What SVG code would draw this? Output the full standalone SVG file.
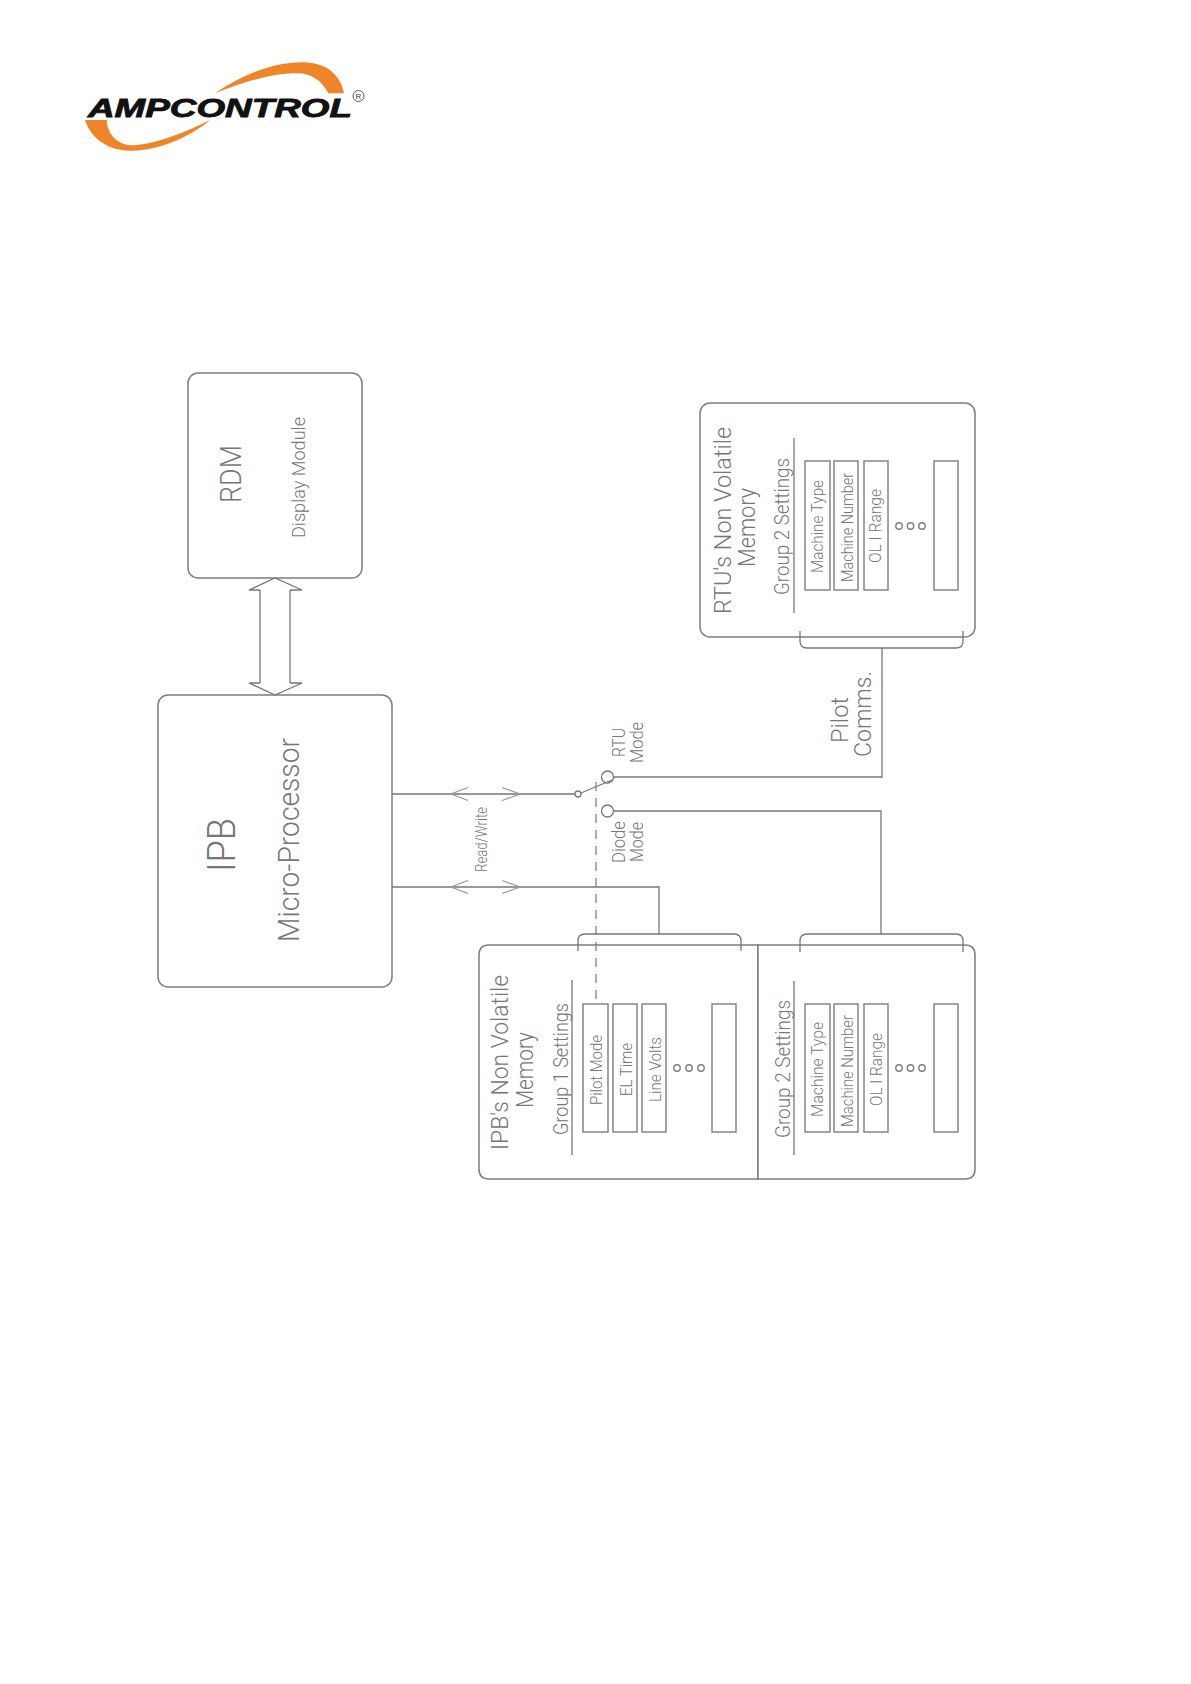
<svg xmlns="http://www.w3.org/2000/svg" width="1191" height="1684" viewBox="0 0 1191 1684">
<style>
text{font-family:"Roboto","Liberation Sans",Arial,sans-serif;font-weight:300;fill:#767676}
.b{fill:#fff;stroke:#7d7d7d;stroke-width:1.5}
.i{fill:none;stroke:#7d7d7d;stroke-width:1.4}
.l{fill:none;stroke:#777;stroke-width:1.3}
.h{fill:none;stroke:#999;stroke-width:1.3}
.d{fill:none;stroke:#777;stroke-width:1.2;stroke-dasharray:9 7}
.s11{font-size:15px}.s13{font-size:16px}.s19{font-size:19px}.s20{font-size:20px}.s22{font-size:23px}.s30{font-size:30px}.s36{font-size:38px}
</style>
<rect width="1191" height="1684" fill="#fff"/>
<g id="logo">
<g transform="translate(70,40) scale(.33333)">
<path fill="#f08428" d="M435,160C520,100 620,65 700,67C770,68 812,105 822,160L775,160C755,122 725,100 680,100C600,100 510,130 435,160Z"/>
<path fill="#f08428" d="M45,240L110,240C112,290 150,318 195,316C270,308 350,275 420,240C360,292 260,334 180,332C110,332 60,290 45,240Z"/>
</g>
<text x="88" y="117" textLength="264" lengthAdjust="spacingAndGlyphs" style="font-family:'Liberation Sans',sans-serif;font-weight:700;font-style:italic;font-size:25px;fill:#111;stroke:#111;stroke-width:.8">AMPCONTROL</text>
<circle cx="358.500" cy="96" r="5.500" fill="none" stroke="#333" stroke-width=".8"/>
<text x="358.500" y="99" text-anchor="middle" style="font-family:'Liberation Sans',sans-serif;font-size:8px;fill:#333">R</text>
</g>
<g id="rdm">
<rect class="b" x="188" y="373" width="174" height="205" rx="10"/>
<text class="s30" transform="translate(241,503) rotate(-90)" textLength="58" lengthAdjust="spacingAndGlyphs">RDM</text>
<text class="s19" transform="translate(305,538) rotate(-90)" textLength="121" lengthAdjust="spacingAndGlyphs">Display Module</text>
</g>
<g id="ipb">
<rect class="b" x="158" y="695" width="234" height="292" rx="10"/>
<text class="s36" transform="translate(235,872) rotate(-90)" textLength="54" lengthAdjust="spacingAndGlyphs">IPB</text>
<text class="s30" transform="translate(299,942) rotate(-90)" textLength="204" lengthAdjust="spacingAndGlyphs">Micro-Processor</text>
</g>
<g id="read-write"><text class="s13" transform="translate(487,872) rotate(-90)" textLength="65" lengthAdjust="spacingAndGlyphs">Read/Write</text></g>
<g id="switch-labels">
<text class="s19" transform="translate(625,757) rotate(-90)" textLength="29" lengthAdjust="spacingAndGlyphs">RTU</text>
<text class="s19" transform="translate(643,763) rotate(-90)" textLength="41" lengthAdjust="spacingAndGlyphs">Mode</text>
<text class="s19" transform="translate(625,863) rotate(-90)" textLength="42" lengthAdjust="spacingAndGlyphs">Diode</text>
<text class="s19" transform="translate(643,862) rotate(-90)" textLength="40" lengthAdjust="spacingAndGlyphs">Mode</text>
<text class="s22" transform="translate(848,743) rotate(-90)" textLength="46" lengthAdjust="spacingAndGlyphs">Pilot</text>
<text class="s22" transform="translate(871,757) rotate(-90)" textLength="86" lengthAdjust="spacingAndGlyphs">Comms.</text>
</g>
<g id="ipb-memory">
<path class="b" d="M758,945H489Q479,945 479,955V1169Q479,1179 489,1179H758Z"/>
<path class="l" d="M572,980V1155"/>
<rect class="i" x="583" y="1004" width="25" height="128"/>
<rect class="i" x="613" y="1004" width="24" height="128"/>
<rect class="i" x="642" y="1004" width="24" height="128"/>
<rect class="i" x="712" y="1004" width="24" height="128"/>
<circle class="i" cx="677" cy="1068" r="3.200"/><circle class="i" cx="689" cy="1068" r="3.200"/><circle class="i" cx="701" cy="1068" r="3.200"/>
<text class="s22" transform="translate(508,1150) rotate(-90)" textLength="175" lengthAdjust="spacingAndGlyphs">IPB's Non Volatile</text>
<text class="s22" transform="translate(533,1108) rotate(-90)" textLength="76" lengthAdjust="spacingAndGlyphs">Memory</text>
<text class="s20" transform="translate(568,1135) rotate(-90)" textLength="132" lengthAdjust="spacingAndGlyphs">Group 1 Settings</text>
<text class="s13" transform="translate(602,1105) rotate(-90)" textLength="70" lengthAdjust="spacingAndGlyphs">Pilot Mode</text>
<text class="s13" transform="translate(632,1096) rotate(-90)" textLength="53" lengthAdjust="spacingAndGlyphs">EL Time</text>
<text class="s13" transform="translate(661,1102) rotate(-90)" textLength="65" lengthAdjust="spacingAndGlyphs">Line Volts</text>
</g>
<g id="ipb-group-2">
<path class="b" d="M758,945H965Q975,945 975,955V1169Q975,1179 965,1179H758Z"/>
<path class="l" d="M794,981V1155"/>
<rect class="i" x="805" y="1004" width="25" height="128"/>
<rect class="i" x="834" y="1004" width="24" height="128"/>
<rect class="i" x="864" y="1004" width="24" height="128"/>
<rect class="i" x="934" y="1004" width="24" height="128"/>
<circle class="i" cx="899" cy="1068" r="3.200"/><circle class="i" cx="910.500" cy="1068" r="3.200"/><circle class="i" cx="922" cy="1068" r="3.200"/>
<text class="s20" transform="translate(790,1138) rotate(-90)" textLength="138" lengthAdjust="spacingAndGlyphs">Group 2 Settings</text>
<text class="s13" transform="translate(823,1117) rotate(-90)" textLength="95" lengthAdjust="spacingAndGlyphs">Machine Type</text>
<text class="s13" transform="translate(853,1127) rotate(-90)" textLength="112" lengthAdjust="spacingAndGlyphs">Machine Number</text>
<text class="s13" transform="translate(882,1106) rotate(-90)" textLength="73" lengthAdjust="spacingAndGlyphs">OL I Range</text>
</g>
<g id="rtu-memory">
<rect class="b" x="700" y="403" width="275" height="234" rx="10"/>
<path class="l" d="M794,438V613"/>
<rect class="i" x="805" y="461" width="25" height="129"/>
<rect class="i" x="834" y="461" width="24" height="129"/>
<rect class="i" x="864" y="461" width="24" height="129"/>
<rect class="i" x="934" y="461" width="24" height="129"/>
<circle class="i" cx="899" cy="526" r="3.200"/><circle class="i" cx="910.500" cy="526" r="3.200"/><circle class="i" cx="922" cy="526" r="3.200"/>
<text class="s22" transform="translate(731,614) rotate(-90)" textLength="187" lengthAdjust="spacingAndGlyphs">RTU's Non Volatile</text>
<text class="s22" transform="translate(755,567) rotate(-90)" textLength="79" lengthAdjust="spacingAndGlyphs">Memory</text>
<text class="s20" transform="translate(789,595) rotate(-90)" textLength="137" lengthAdjust="spacingAndGlyphs">Group 2 Settings</text>
<text class="s13" transform="translate(823,573) rotate(-90)" textLength="93" lengthAdjust="spacingAndGlyphs">Machine Type</text>
<text class="s13" transform="translate(853,582) rotate(-90)" textLength="109" lengthAdjust="spacingAndGlyphs">Machine Number</text>
<text class="s13" transform="translate(881,563) rotate(-90)" textLength="74" lengthAdjust="spacingAndGlyphs">OL I Range</text>
</g>
<g id="connectors">
<path class="l" d="M260,590V683M290,590V683M260,590H249L275,578L302,590H290M260,683H249L275,695L302,683H290"/>
<path class="l" d="M392,794H575M392,887H659V934"/>
<path class="h" d="M468,787.500L451,794L468,800.500M502,787.500L520,794L502,800.500M468,880.500L451,887L468,893.500M502,880.500L520,887L502,893.500"/>
<path class="l" d="M581,793L612,780M613.500,777H882V648M613.500,811H881V934"/>
<path class="d" d="M596,782V1004"/>
<path class="l" d="M578,951V941Q578,934 585,934H734Q741,934 741,941V951"/>
<path class="l" d="M800,952V941Q800,934 807,934H956Q963,934 963,941V952"/>
<path class="l" d="M800,631V641Q800,648 807,648H956Q963,648 963,641V631"/>
<circle class="l" cx="578" cy="794" r="3"/>
<circle class="l" cx="607.500" cy="777" r="6"/>
<circle class="l" cx="607.500" cy="811" r="6"/>
</g>
</svg>
